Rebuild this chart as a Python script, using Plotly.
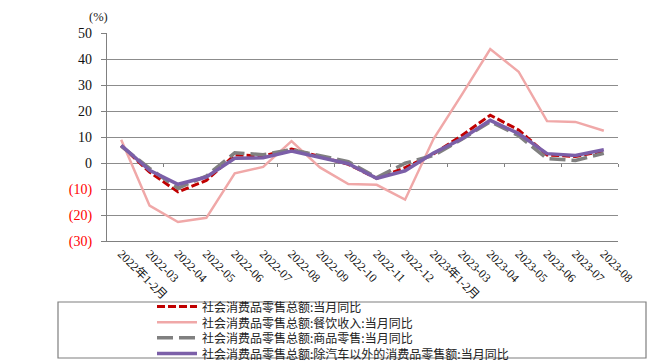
import plotly.graph_objects as go

categories = ["2022年1-2月", "2022-03", "2022-04", "2022-05", "2022-06", "2022-07",
              "2022-08", "2022-09", "2022-10", "2022-11", "2022-12", "2023年1-2月",
              "2023-03", "2023-04", "2023-05", "2023-06", "2023-07", "2023-08"]

total_retail = [6.7, -3.5, -11.1, -6.7, 3.1, 2.7, 5.4, 2.5, -0.5, -5.9, -1.8, 3.5,
                10.6, 18.4, 12.7, 3.1, 2.5, 4.6]
catering = [8.9, -16.4, -22.7, -21.1, -4.0, -1.5, 8.4, -1.7, -8.1, -8.4, -14.1, 9.2,
            26.3, 43.8, 35.1, 16.1, 15.8, 12.4]
goods = [6.5, -2.1, -9.7, -5.0, 3.9, 3.2, 5.1, 2.8, 0.5, -5.6, -0.1, 2.9,
         9.1, 15.9, 10.5, 1.7, 1.0, 3.7]
ex_auto = [6.8, -2.8, -8.2, -5.4, 1.8, 2.0, 4.6, 2.3, -0.3, -5.9, -3.0, 3.8,
           9.3, 16.4, 11.3, 3.6, 2.9, 5.1]

series_names = ["社会消费品零售总额:当月同比",
                "社会消费品零售总额:餐饮收入:当月同比",
                "社会消费品零售总额:商品零售:当月同比",
                "社会消费品零售总额:除汽车以外的消费品零售额:当月同比"]

y_tickvals = [-30, -20, -10, 0, 10, 20, 30, 40, 50]
y_ticktext = ['<span style="color:#ff0000">(30)</span>',
              '<span style="color:#ff0000">(20)</span>',
              '<span style="color:#ff0000">(10)</span>',
              "0", "10", "20", "30", "40", "50"]

styles = [
    dict(color="#C00000", width=3, dash="8px,3px"),
    dict(color="#F0A8A8", width=2.5, dash="solid"),
    dict(color="#808080", width=3.5, dash="16px,6px"),
    dict(color="#7B5FA8", width=3.5, dash="solid"),
]
data_series = [total_retail, catering, goods, ex_auto]

# page body has an 8px margin: the figure starts at (8, 8) in the window
OFF = 8
W, H = 672 - OFF, 363 - OFF
# plot area in window pixels: x 107..618, y 33..241
L, R, T, B = 107 - OFF, 672 - 618, 33 - OFF, 363 - 241
PW, PH = 618 - 107, 241 - 33


def px(xw):
    return (xw - 107) / PW


def py(yw):
    return (241 - yw) / PH


fig = go.Figure()
for name, vals, st in zip(series_names, data_series, styles):
    fig.add_trace(go.Scatter(x=categories, y=vals, mode="lines", name=name,
                             line=st, showlegend=False))

# helper trace for the tick marks on the zero line
fig.add_trace(go.Scatter(x=[-0.5, 17.5], y=[0, 0], xaxis="x2", mode="lines",
                         line=dict(width=0), hoverinfo="skip", showlegend=False))

shapes = []
annotations = []
# legend box
shapes.append(dict(type="rect", xref="paper", yref="paper",
                   x0=px(58), x1=px(646), y0=py(358), y1=py(302),
                   line=dict(color="#7f7f7f", width=1.2), fillcolor="rgba(0,0,0,0)"))
LEG_FS = 12
center = 330
step = LEG_FS * 1.3
rows = [center + (i - 1.5) * step for i in range(4)]
for st, ry in zip(styles, rows):
    shapes.append(dict(type="line", xref="paper", yref="paper",
                       x0=px(157), x1=px(197), y0=py(ry), y1=py(ry),
                       line=dict(color=st["color"], width=st["width"], dash=st["dash"])))
annotations.append(dict(xref="paper", yref="paper", x=px(200), y=py(center),
                        xanchor="left", yanchor="middle", align="left", showarrow=False,
                        text="<br>".join(series_names),
                        font=dict(family="Noto Sans CJK SC", size=LEG_FS, color="#222222")))

annotations.append(dict(xref="paper", yref="paper", x=px(98), y=py(17),
                        xanchor="center", yanchor="middle", showarrow=False,
                        text="(%)", font=dict(family="Liberation Serif", size=12.5,
                                              color="#222222")))

fig.update_layout(
    width=W, height=H,
    margin=dict(l=L, r=R, t=T, b=B, pad=0),
    paper_bgcolor="white", plot_bgcolor="white",
    shapes=shapes, annotations=annotations,
    xaxis=dict(type="category", range=[-0.5, 17.5], showgrid=False,
               showline=True, linecolor="#808080", linewidth=1.2,
               ticks="", tickangle=45,
               tickfont=dict(family="Liberation Serif, Noto Sans CJK SC", size=12,
                             color="#111111")),
    xaxis2=dict(overlaying="x", anchor="free", position=0.375, range=[-0.5, 17.5],
                tickvals=[1.5, 3.5, 5.5, 7.5, 9.5, 11.5, 13.5, 15.5, 17.5],
                ticks="outside", ticklen=3, tickcolor="#808080", tickwidth=1,
                showticklabels=False, showgrid=False, showline=False, zeroline=False),
    yaxis=dict(range=[-30, 50], tickvals=y_tickvals, ticktext=y_ticktext,
               showgrid=True, gridcolor="#8c8c8c", gridwidth=1.2,
               zeroline=True, zerolinecolor="#8c8c8c", zerolinewidth=1.2,
               showline=True, linecolor="#808080", linewidth=1.2,
               ticks="outside", ticklen=5, tickcolor="#808080",
               ticklabelstandoff=6,
               tickfont=dict(family="Liberation Serif", size=14, color="#111111")),
)

fig.write_html("out.html")
